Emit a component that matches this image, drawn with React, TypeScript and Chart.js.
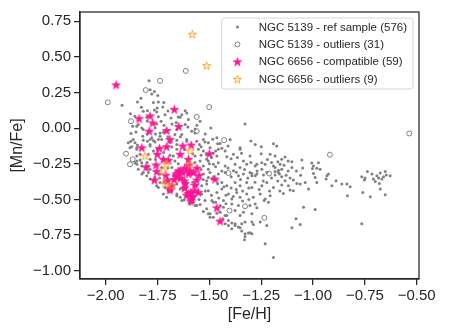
import React, { useEffect, useRef } from "react";
import { Chart, registerables } from "chart.js";
Chart.register(...registerables);

const xTicks = [-2.0, -1.75, -1.5, -1.25, -1.0, -0.75, -0.5];
const yTicks = [-1.0, -0.75, -0.5, -0.25, 0.0, 0.25, 0.5, 0.75];
const xRange = [-2.124, -0.489];
const yRange = [-1.058, 0.815];
const xLabel = "[Fe/H]";
const yLabel = "[Mn/Fe]";

const legendLabels = [
  "NGC 5139 - ref sample (576)",
  "NGC 5139 - outliers (31)",
  "NGC 6656 - compatible (59)",
  "NGC 6656 - outliers (9)",
];

// NGC 5139 reference sample ([Fe/H], [Mn/Fe])
const refSample: [number, number][] = [
  [-1.791,0.332],[-1.786,0.270],[-1.765,0.258],[-1.749,0.230],[-1.746,0.183],[-1.847,0.183],[-1.921,0.160],[-1.828,0.146],
  [-1.881,0.102],[-1.859,0.084],[-1.799,0.123],[-1.765,0.127],[-1.752,0.141],[-1.725,0.148],[-1.714,0.095],[-1.746,0.081],
  [-1.802,0.077],[-1.843,0.026],[-1.870,0.014],[-1.826,0.002],[-1.754,0.030],[-1.733,0.049],[-1.719,0.021],[-1.685,0.072],
  [-1.650,0.079],[-1.641,0.077],[-1.617,0.123],[-1.604,0.009],[-1.585,-0.021],[-1.569,-0.005],[-1.493,0.002],[-1.328,0.030],
  [-1.279,-0.114],[-1.352,-0.137],[-1.464,-0.068],[-1.484,-0.077],[-1.521,-0.097],[-1.548,-0.114],[-1.879,-0.091],[-1.875,-0.130],
  [-1.847,-0.118],[-1.799,-0.091],[-1.786,-0.114],[-1.770,-0.086],[-1.738,-0.056],[-1.722,-0.028],[-1.666,-0.044],[-1.657,-0.114],
  [-1.681,-0.132],[-1.609,-0.091],[-1.854,-0.026],[-1.821,-0.056],[-1.751,-0.148],
  [-1.778,0.239],[-1.819,0.118],[-1.754,0.114],[-1.633,0.095],[-1.609,0.107],[-1.601,0.061],[-1.850,0.014],[-1.819,-0.009],
  [-1.762,0.002],[-1.738,-0.033],[-1.633,-0.044],[-1.778,-0.068],[-1.867,-0.079],[-1.746,-0.079],[-1.657,-0.009],[-1.617,0.026],
  [-1.878,-0.037],[-1.545,0.049],[-1.569,-0.033],
  [-1.859,-0.102],[-1.819,-0.084],[-1.786,-0.079],[-1.762,-0.097],[-1.730,-0.079],[-1.657,-0.084],[-1.609,-0.079],[-1.561,-0.091],
  [-1.529,-0.079],[-1.505,-0.102],[-1.883,-0.137],[-1.850,-0.137],[-1.786,-0.125],[-1.770,-0.160],[-1.657,-0.148],[-1.553,-0.148],
  [-1.529,-0.160],[-1.497,-0.137],[-1.850,-0.195],[-1.834,-0.223],[-1.794,-0.183],[-1.786,-0.218],[-1.674,-0.195],[-1.666,-0.230],
  [-1.569,-0.195],[-1.545,-0.230],[-1.513,-0.218],[-1.850,-0.253],[-1.826,-0.242],[-1.794,-0.265],[-1.786,-0.288],[-1.730,-0.276],
  [-1.681,-0.276],[-1.529,-0.265],[-1.505,-0.288],[-1.826,-0.322],[-1.802,-0.334],[-1.786,-0.357],[-1.738,-0.322],[-1.674,-0.334],
  [-1.529,-0.322],[-1.505,-0.346],[-1.754,-0.404],[-1.746,-0.416],[-1.738,-0.381],[-1.657,-0.392],[-1.641,-0.427],[-1.537,-0.404],
  [-1.513,-0.392],[-1.722,-0.462],[-1.706,-0.485],[-1.657,-0.474],[-1.633,-0.508],[-1.537,-0.462],[-1.521,-0.508],[-1.577,-0.520],
  [-1.891,-0.102],[-1.850,-0.230],[-1.826,-0.265],[-1.802,-0.288],[-1.794,-0.311],[-1.762,-0.346],[-1.714,-0.416],[-1.681,-0.439],
  [-1.657,-0.462],[-1.641,-0.485],[-1.622,-0.503],[-1.593,-0.520],[-1.561,-0.543],[-1.529,-0.585],[-1.513,-0.566],[-1.497,-0.601],
  [-1.481,-0.625],[-1.464,-0.597],[-1.435,-0.636],[-1.416,-0.613],[-1.408,-0.648],[-1.392,-0.666],[-1.376,-0.682],[-1.352,-0.698],
  [-1.344,-0.722],[-1.328,-0.740],[-1.312,-0.736],[-1.331,-0.782],[-1.850,-0.148],[-1.834,-0.183],[-1.859,-0.242],[-1.843,-0.288],
  [-1.819,-0.311],
  [-1.593,-0.531],[-1.569,-0.543],[-1.545,-0.536],[-1.505,-0.601],[-1.497,-0.625],[-1.481,-0.520],[-1.448,-0.543],[-1.432,-0.555],
  [-1.424,-0.613],[-1.448,-0.590],[-1.392,-0.531],[-1.376,-0.578],[-1.360,-0.543],[-1.352,-0.613],[-1.336,-0.590],[-1.304,-0.543],
  [-1.279,-0.531],[-1.271,-0.559],[-1.295,-0.601],[-1.424,-0.671],[-1.408,-0.682],[-1.392,-0.705],[-1.376,-0.671],[-1.360,-0.694],
  [-1.344,-0.671],[-1.328,-0.659],[-1.295,-0.659],[-1.288,-0.676],[-1.304,-0.733],[-1.328,-0.759],[-1.231,-0.810],[-1.223,-0.682],
  [-1.191,-0.907],[-1.236,-0.508],[-1.215,-0.520],
  [-1.448,-0.107],[-1.352,-0.148],[-1.175,-0.125],[-1.457,-0.148],[-1.424,-0.160],[-1.481,-0.176],[-1.464,-0.195],[-1.416,-0.200],
  [-1.384,-0.183],[-1.336,-0.230],[-1.304,-0.195],[-1.207,-0.183],[-1.183,-0.195],[-1.151,-0.218],[-1.505,-0.230],[-1.481,-0.253],
  [-1.457,-0.242],[-1.424,-0.265],[-1.376,-0.253],[-1.352,-0.276],[-1.320,-0.253],[-1.279,-0.265],[-1.247,-0.288],[-1.231,-0.253],
  [-1.183,-0.276],[-1.151,-0.288],[-1.384,-0.299],[-1.304,-0.311],[-1.497,-0.311],[-1.457,-0.322],[-1.424,-0.311],[-1.360,-0.334],
  [-1.336,-0.322],[-1.295,-0.334],[-1.271,-0.322],[-1.239,-0.329],[-1.183,-0.329],[-1.167,-0.311],[-1.513,-0.369],[-1.488,-0.357],
  [-1.440,-0.381],[-1.416,-0.404],[-1.376,-0.381],[-1.352,-0.404],[-1.320,-0.381],[-1.295,-0.416],[-1.247,-0.404],[-1.223,-0.381],
  [-1.191,-0.416],[-1.151,-0.399],[-1.505,-0.439],[-1.464,-0.451],[-1.440,-0.427],[-1.408,-0.462],[-1.368,-0.451],[-1.352,-0.485],
  [-1.320,-0.462],[-1.288,-0.485],[-1.255,-0.462],[-1.231,-0.497],[-1.207,-0.474],[-1.488,-0.508],[-1.432,-0.508],[-1.392,-0.497],
  [-1.191,-0.109],[-1.135,-0.202],[-1.102,-0.235],[-1.054,-0.223],[-1.102,-0.276],[-1.159,-0.253],[-1.191,-0.265],[-1.247,-0.242],
  [-1.271,-0.253],[-1.295,-0.318],[-1.279,-0.334],[-1.223,-0.311],[-1.183,-0.304],[-1.167,-0.295],[-1.162,-0.322],[-1.151,-0.341],
  [-1.135,-0.369],[-1.111,-0.350],[-1.095,-0.364],[-1.078,-0.388],[-1.119,-0.404],[-1.111,-0.434],[-1.095,-0.439],[-1.143,-0.458],
  [-1.062,-0.392],[-1.038,-0.381],[-1.022,-0.427],[-1.006,-0.244],[-0.998,-0.265],[-0.974,-0.242],[-1.003,-0.283],[-0.982,-0.281],
  [-0.966,-0.288],[-0.998,-0.318],[-0.990,-0.346],[-0.982,-0.381],[-0.933,-0.334],[-0.926,-0.322],[-0.937,-0.357],[-0.909,-0.404],
  [-0.889,-0.369],[-0.861,-0.392],[-0.837,-0.392],[-0.821,-0.411],[-0.834,-0.474],[-1.046,-0.555],[-0.990,-0.571],[-1.082,-0.636],
  [-1.062,-0.676],[-1.102,-0.698],[-1.255,-0.659],[-1.295,-0.740],
  [-0.765,-0.341],[-0.749,-0.350],[-0.738,-0.304],[-0.716,-0.322],[-0.709,-0.357],[-0.700,-0.374],[-0.692,-0.334],[-0.684,-0.350],
  [-0.676,-0.315],[-0.668,-0.357],[-0.660,-0.341],[-0.652,-0.304],[-0.647,-0.329],[-0.628,-0.334],[-0.680,-0.388],[-0.676,-0.427],
  [-0.652,-0.467],[-0.724,-0.481],[-0.760,-0.451],[-0.765,-0.671],[-0.752,-0.364],
  [-1.540,-0.130],[-1.515,-0.185],[-1.490,-0.205],[-1.470,-0.160],[-1.440,-0.140],[-1.410,-0.125],[-1.395,-0.215],[-1.365,-0.205],
  [-1.345,-0.175],[-1.330,-0.290],[-1.300,-0.240],[-1.470,-0.270],[-1.440,-0.300],[-1.410,-0.280],[-1.395,-0.340],[-1.370,-0.310],
  [-1.350,-0.360],[-1.315,-0.350],[-1.480,-0.340],[-1.460,-0.390],[-1.430,-0.410],[-1.395,-0.420],[-1.370,-0.430],[-1.340,-0.440],
  [-1.310,-0.420],[-1.490,-0.470],[-1.455,-0.490],[-1.420,-0.470],[-1.385,-0.480],[-1.340,-0.510],[-1.310,-0.500],[-1.470,-0.520],
  [-1.420,-0.530],[-1.520,-0.440],[-1.530,-0.360],[-1.540,-0.290],[-1.500,-0.250],[-1.280,-0.380],[-1.260,-0.430],[-1.270,-0.300],
  [-1.250,-0.180],[-1.220,-0.220],[-1.200,-0.240],[-1.170,-0.235],[-1.140,-0.260],[-1.120,-0.300],[-1.200,-0.350],[-1.170,-0.370],
  [-1.130,-0.330],[-1.240,-0.370],[-1.210,-0.440],[-1.160,-0.440],[-1.080,-0.300],[-1.060,-0.330],[-1.050,-0.280],[-1.120,-0.230],
  [-1.800,-0.040],[-1.760,-0.040],[-1.700,-0.060],[-1.690,-0.100],[-1.640,-0.060],[-1.620,-0.150],[-1.720,-0.170],[-1.700,-0.280],
  [-1.760,-0.220],[-1.800,-0.240],[-1.740,-0.350],[-1.720,-0.380],[-1.690,-0.190],[-1.650,-0.250],[-1.580,-0.180],[-1.570,-0.240],
  [-1.540,-0.190],[-1.560,-0.400],[-1.580,-0.380],[-1.550,-0.500],
  [-1.700,0.120],[-1.680,0.030],[-1.660,0.040],[-1.800,0.050],[-1.770,0.180],[-1.830,0.210],[-1.720,0.180],[-1.560,0.020],
  [-1.520,-0.040],[-1.460,-0.110],[-1.400,-0.080],[-1.300,-0.090],[-1.250,-0.130],
];

// NGC 5139 outliers
const outliers5139: [number, number][] = [
  [-1.990,0.181],[-1.807,0.267],[-1.738,0.332],[-1.614,0.402],[-1.501,0.148],[-1.878,0.049],[-1.561,0.079],[-1.561,-0.021],
  [-1.429,-0.084],[-0.536,-0.037],[-0.919,-0.186],[-1.212,-0.318],[-1.235,-0.629],[-1.902,-0.179],[-1.870,-0.218],[-1.883,-0.253],
  [-1.408,-0.315],[-1.403,-0.578],[-1.328,-0.548],
  [-1.657,-0.334],[-1.641,-0.299],[-1.597,-0.299],[-1.617,-0.388],[-1.690,-0.434],[-1.601,-0.458],[-1.703,-0.369],[-1.660,-0.320],
  [-1.630,-0.310],[-1.620,-0.420],[-1.580,-0.480],[-1.640,-0.350],
];

// NGC 6656 compatible
const compatible6656: [number, number][] = [
  [-1.950,0.304],[-1.839,0.067],[-1.786,0.086],[-1.773,0.037],[-1.790,-0.021],[-1.669,0.132],[-1.706,-0.016],[-1.648,0.012],
  [-1.690,-0.079],[-1.826,-0.137],[-1.741,-0.141],[-1.706,-0.130],[-1.628,-0.125],[-1.588,-0.118],
  [-1.500,-0.179],[-1.751,-0.183],[-1.641,-0.183],[-1.805,-0.272],[-1.757,-0.258],[-1.754,-0.304],[-1.722,-0.218],[-1.698,-0.225],
  [-1.765,-0.364],[-1.703,-0.369],[-1.690,-0.434],[-1.657,-0.334],[-1.641,-0.299],[-1.617,-0.388],[-1.597,-0.299],[-1.577,-0.311],
  [-1.561,-0.364],[-1.601,-0.218],[-1.601,-0.458],[-1.588,-0.497],[-1.572,-0.439],[-1.553,-0.450],[-1.473,-0.357],[-1.464,-0.559],
  [-1.448,-0.652],
  [-1.660,-0.320],[-1.650,-0.300],[-1.630,-0.310],[-1.620,-0.280],[-1.600,-0.320],[-1.640,-0.350],[-1.670,-0.360],[-1.680,-0.400],
  [-1.690,-0.420],[-1.620,-0.420],[-1.610,-0.470],[-1.590,-0.450],[-1.580,-0.480],[-1.570,-0.400],[-1.550,-0.330],[-1.560,-0.280],
  [-1.600,-0.260],[-1.710,-0.330],[-1.590,-0.510],[-1.620,-0.370],
];

// NGC 6656 outliers
const outliers6656: [number, number][] = [
  [-1.582,0.659],[-1.513,0.439],[-1.810,-0.195],[-1.593,-0.160],[-1.593,-0.253],[-1.706,-0.253],[-1.722,-0.299],[-1.714,-0.392],
  [-1.681,-0.404],
];

const FONT = "'Liberation Sans', Arial, sans-serif";
const TEXT = "#262626";
const GREY = "#808080";
const PINK = "#ff1493";
const ORANGE = "#ffa020";

function makeStar(r: number, fill: string | null, stroke: string, lw: number): HTMLCanvasElement {
  const size = Math.ceil(2 * r + lw * 2 + 2);
  const c = document.createElement("canvas");
  c.width = size;
  c.height = size;
  const ctx = c.getContext("2d")!;
  const cx = size / 2, cy = size / 2 + r * 0.09;
  const inner = r * 0.381966;
  ctx.beginPath();
  for (let i = 0; i < 10; i++) {
    const rad = i % 2 === 0 ? r : inner;
    const a = -Math.PI / 2 + (i * Math.PI) / 5;
    const x = cx + rad * Math.cos(a), y = cy + rad * Math.sin(a);
    if (i === 0) ctx.moveTo(x, y); else ctx.lineTo(x, y);
  }
  ctx.closePath();
  if (fill) { ctx.fillStyle = fill; ctx.fill(); }
  ctx.lineWidth = lw;
  ctx.strokeStyle = stroke;
  ctx.lineJoin = "miter";
  ctx.stroke();
  return c;
}

const fmt = (v: number | string) => {
  const n = Number(v);
  const s = Math.abs(n).toFixed(2);
  return n < -1e-9 ? "\u2212" + s : s;
};

export default function App() {
  const ref = useRef<HTMLCanvasElement | null>(null);
  useEffect(() => {
    document.body.style.margin = "0";
    const canvas = ref.current!;
    const pinkStar = makeStar(4.4, PINK, PINK, 0.8);
    const orangeStar = makeStar(4.2, null, ORANGE, 1.0);

    const framePlugin = {
      id: "frame",
      afterDraw(chart: any) {
        const { ctx, chartArea: a } = chart;
        ctx.save();
        ctx.strokeStyle = TEXT;
        ctx.lineWidth = 1.25;
        ctx.strokeRect(a.left, a.top, a.right - a.left, a.bottom - a.top);
        ctx.restore();
      },
    };

    const legendPlugin = {
      id: "customLegend",
      afterDraw(chart: any) {
        const { ctx, chartArea: a } = chart;
        ctx.save();
        ctx.font = `11.5px ${FONT}`;
        let tw = 0;
        legendLabels.forEach((l) => { tw = Math.max(tw, ctx.measureText(l).width); });
        const right = a.right - 6;
        const top = a.top + 6;
        const w = tw + 43;
        const h = 71;
        const left = right - w;
        const r = 3;
        ctx.beginPath();
        ctx.moveTo(left + r, top);
        ctx.lineTo(right - r, top);
        ctx.quadraticCurveTo(right, top, right, top + r);
        ctx.lineTo(right, top + h - r);
        ctx.quadraticCurveTo(right, top + h, right - r, top + h);
        ctx.lineTo(left + r, top + h);
        ctx.quadraticCurveTo(left, top + h, left, top + h - r);
        ctx.lineTo(left, top + r);
        ctx.quadraticCurveTo(left, top, left + r, top);
        ctx.closePath();
        ctx.fillStyle = "rgba(255,255,255,0.8)";
        ctx.fill();
        ctx.strokeStyle = "#d6d6d6";
        ctx.lineWidth = 1;
        ctx.stroke();
        const mx = left + 15.7;
        const tx = left + 37;
        legendLabels.forEach((label, i) => {
          const y = top + 9 + i * 17.4;
          if (i === 0) {
            ctx.beginPath();
            ctx.arc(mx, y, 1.5, 0, Math.PI * 2);
            ctx.fillStyle = GREY;
            ctx.fill();
          } else if (i === 1) {
            ctx.beginPath();
            ctx.arc(mx, y, 2.5, 0, Math.PI * 2);
            ctx.strokeStyle = GREY;
            ctx.lineWidth = 1;
            ctx.stroke();
          } else {
            const img = i === 2 ? pinkStar : orangeStar;
            ctx.drawImage(img, mx - img.width / 2, y - img.height / 2);
          }
          ctx.fillStyle = TEXT;
          ctx.textAlign = "left";
          ctx.textBaseline = "middle";
          ctx.fillText(label, tx, y + 0.5);
        });
        ctx.restore();
      },
    };

    const toXY = (arr: [number, number][]) => arr.map(([x, y]) => ({ x, y }));

    const chart = new Chart(canvas, {
      type: "scatter",
      data: {
        datasets: [
          {
            label: legendLabels[0],
            data: toXY(refSample),
            pointStyle: "circle",
            pointRadius: 1.5,
            backgroundColor: GREY,
            borderWidth: 0,
            order: 4,
          },
          {
            label: legendLabels[1],
            data: toXY(outliers5139),
            pointStyle: "circle",
            pointRadius: 2.5,
            backgroundColor: "rgba(0,0,0,0)",
            borderColor: GREY,
            borderWidth: 1,
            order: 3,
          },
          {
            label: legendLabels[2],
            data: toXY(compatible6656),
            pointStyle: pinkStar as any,
            pointRadius: 4.4,
            backgroundColor: PINK,
            borderColor: PINK,
            order: 2,
          },
          {
            label: legendLabels[3],
            data: toXY(outliers6656),
            pointStyle: orangeStar as any,
            pointRadius: 4.2,
            backgroundColor: "rgba(0,0,0,0)",
            borderColor: ORANGE,
            order: 1,
          },
        ],
      },
      options: {
        responsive: false,
        animation: false,
        devicePixelRatio: 1,
        layout: { padding: { top: 10, right: 30, left: 0, bottom: 0 } },
        plugins: { legend: { display: false }, tooltip: { enabled: false } },
        scales: {
          x: {
            type: "linear",
            position: "bottom",
            min: xRange[0],
            max: xRange[1],
            afterBuildTicks: (s: any) => { s.ticks = xTicks.map((v) => ({ value: v })); },
            afterFit: (s: any) => { s.height = 57; },
            ticks: { font: { family: FONT, size: 15 }, color: TEXT, padding: 2, callback: fmt, maxRotation: 0, autoSkip: false },
            grid: { drawOnChartArea: false, drawTicks: true, tickLength: 6, color: TEXT, lineWidth: 1.25 },
            border: { display: true, color: TEXT, width: 1.25 },
            title: { display: true, text: xLabel, color: TEXT, font: { family: FONT, size: 16 }, padding: { top: 0, bottom: 11.4 } },
          },
          y: {
            type: "linear",
            position: "left",
            min: yRange[0],
            max: yRange[1],
            afterBuildTicks: (s: any) => { s.ticks = yTicks.map((v) => ({ value: v })); },
            afterFit: (s: any) => { s.width = 80; },
            ticks: { font: { family: FONT, size: 15 }, color: TEXT, padding: 3, callback: fmt, autoSkip: false },
            grid: { drawOnChartArea: false, drawTicks: true, tickLength: 6, color: TEXT, lineWidth: 1.25 },
            border: { display: true, color: TEXT, width: 1.25 },
            title: { display: true, text: yLabel, color: TEXT, font: { family: FONT, size: 16 }, padding: { top: 8.4, bottom: 0 } },
          },
        },
      } as any,
      plugins: [framePlugin, legendPlugin],
    });
    return () => chart.destroy();
  }, []);

  return (
    <div style={{ width: 449, height: 336, position: "relative", background: "#fff" }}>
      <canvas ref={ref} width={449} height={336} />
    </div>
  );
}
